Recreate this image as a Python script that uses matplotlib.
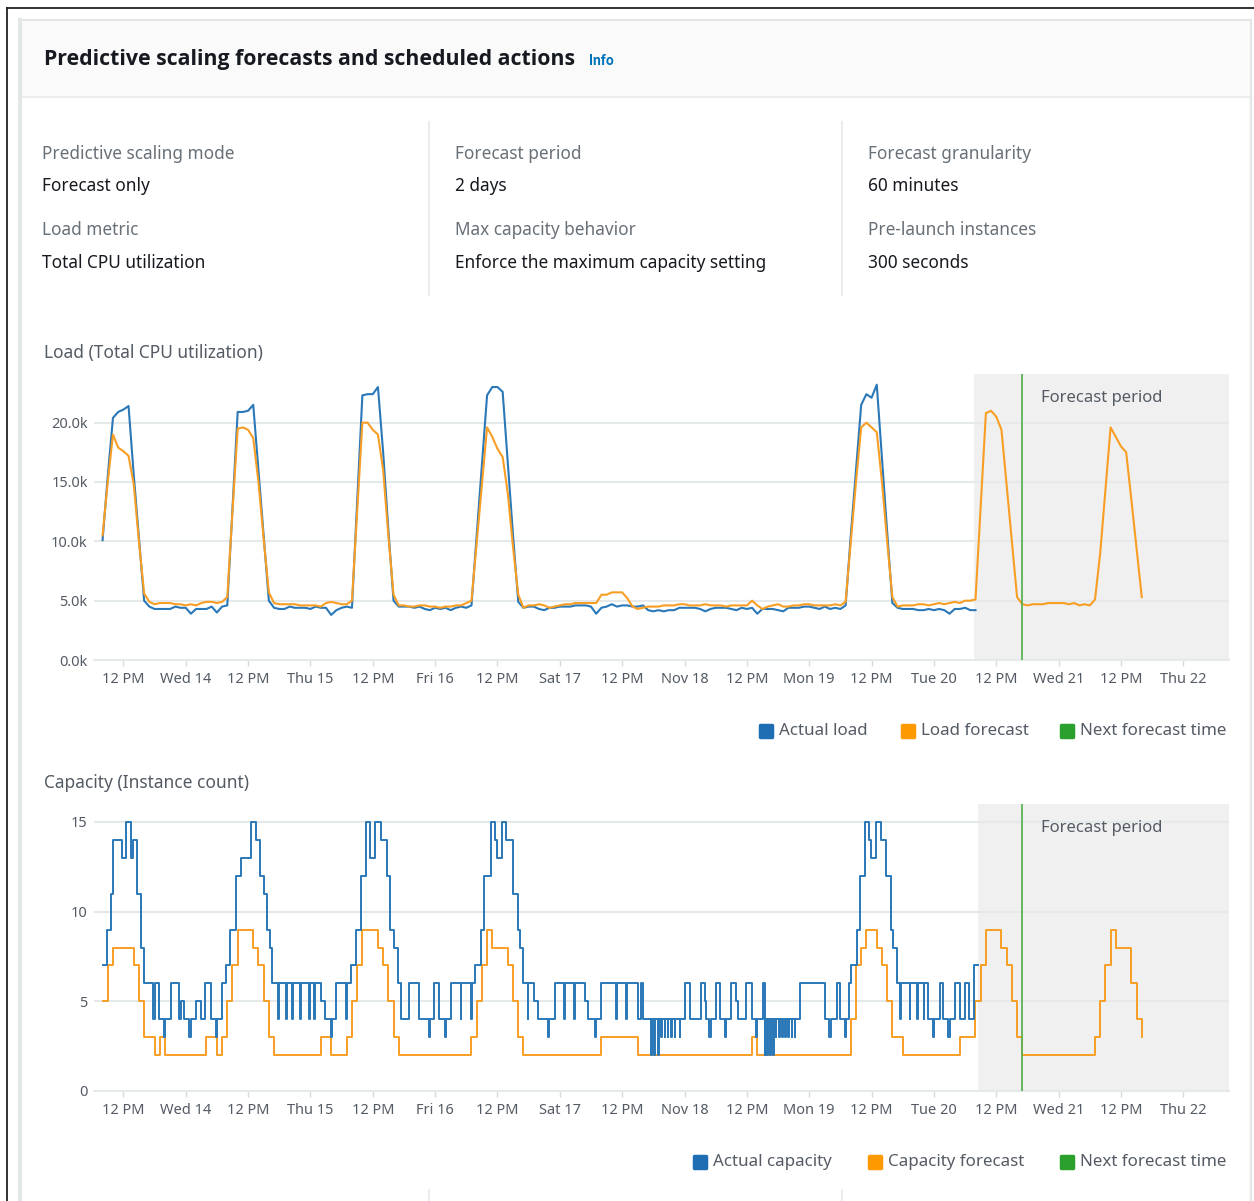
import matplotlib
matplotlib.use('Agg')
import numpy as np
import matplotlib.pyplot as plt
from matplotlib.patches import Rectangle
from matplotlib.lines import Line2D
from matplotlib.markers import MarkerStyle

plt.rcParams['font.family'] = ['Noto Sans', 'DejaVu Sans']

W, H = 1254, 1201

# hours counted from Tue 13 00:00
tick_hours = [12, 24, 36, 48, 60, 72, 84, 96, 108, 120, 132, 144, 156, 168, 180, 192, 204, 216]
tick_labels = ['12 PM', 'Wed 14', '12 PM', 'Thu 15', '12 PM', 'Fri 16', '12 PM', 'Sat 17', '12 PM',
               'Nov 18', '12 PM', 'Mon 19', '12 PM', 'Tue 20', '12 PM', 'Wed 21', '12 PM', 'Thu 22']

first_hour = 8
forecast_start_load = 175.7
forecast_start_cap = 176.5
next_forecast_hour = 184.9

# Load (Total CPU utilization), thousands, hourly from Tue 13 08:00
actual_load = [
    10.1, 15.5, 20.4, 20.9, 21.1, 21.4, 15.6, 10.3, 5.0, 4.5, 4.3, 4.3, 4.3, 4.3, 4.5, 4.4,
    4.4, 3.9, 4.3, 4.3, 4.3, 4.5, 4.0, 4.5, 4.6, 12.7, 20.9, 20.9, 21.0, 21.5, 16.0, 10.5, 5.0, 4.4, 4.3, 4.3, 4.5, 4.4, 4.4, 4.4,
    4.3, 4.5, 4.4, 4.4, 3.8, 4.2, 4.4, 4.5, 4.4, 13.4, 22.3, 22.4, 22.4, 23.0, 17.5, 11.0, 5.0, 4.5, 4.5, 4.5, 4.4, 4.5, 4.3, 4.2,
    4.4, 4.3, 4.4, 4.2, 4.4, 4.5, 4.4, 4.6, 10.5, 16.5, 22.3, 23.0, 23.0, 22.6, 16.5, 10.5, 4.9, 4.4, 4.5, 4.5, 4.3, 4.2, 4.4, 4.4,
    4.5, 4.5, 4.5, 4.6, 4.6, 4.6, 4.5, 3.9, 4.4, 4.5, 4.7, 4.5, 4.6, 4.6, 4.5, 4.5, 4.6, 4.2, 4.1, 4.2, 4.1, 4.2, 4.2, 4.4,
    4.4, 4.4, 4.4, 4.3, 4.1, 4.3, 4.4, 4.4, 4.4, 4.3, 4.2, 4.4, 4.3, 4.4, 3.9, 4.3, 4.3, 4.3, 4.2, 4.1, 4.4, 4.4, 4.4, 4.5,
    4.5, 4.4, 4.3, 4.5, 4.3, 4.4, 4.3, 4.6, 10.5, 16.0, 21.5, 22.4, 22.1, 23.2, 17.0, 10.8, 4.8, 4.4, 4.3, 4.3, 4.3, 4.2, 4.2, 4.3,
    4.2, 4.3, 4.2, 3.9, 4.3, 4.3, 4.4, 4.2, 4.2,
]
load_forecast = [
    10.5, 15.0, 19.0, 17.9, 17.6, 17.2, 14.8, 10.0, 5.6, 4.9, 4.7, 4.8, 4.8, 4.8, 4.7, 4.7,
    4.6, 4.7, 4.6, 4.8, 4.9, 4.9, 4.8, 4.9, 5.3, 12.5, 19.5, 19.6, 19.4, 18.7, 15.0, 10.2, 5.7, 4.8, 4.7, 4.7, 4.7, 4.7, 4.6, 4.6,
    4.6, 4.6, 4.5, 4.8, 4.9, 4.8, 4.7, 4.7, 5.0, 12.5, 20.0, 20.0, 19.4, 19.0, 16.0, 10.5, 5.5, 4.6, 4.6, 4.5, 4.5, 4.6, 4.6, 4.5,
    4.5, 4.4, 4.5, 4.5, 4.6, 4.6, 4.8, 5.0, 9.9, 14.8, 19.6, 18.8, 17.8, 17.1, 14.0, 9.5, 5.5, 4.4, 4.6, 4.6, 4.7, 4.6, 4.4, 4.5,
    4.6, 4.7, 4.7, 4.8, 4.8, 4.8, 4.8, 4.8, 5.5, 5.5, 5.7, 5.7, 5.7, 5.2, 4.5, 4.3, 4.4, 4.5, 4.5, 4.5, 4.6, 4.6, 4.6, 4.7,
    4.7, 4.6, 4.6, 4.6, 4.7, 4.6, 4.6, 4.6, 4.5, 4.6, 4.6, 4.6, 4.6, 5.0, 4.6, 4.3, 4.5, 4.6, 4.7, 4.5, 4.5, 4.6, 4.6, 4.7,
    4.7, 4.6, 4.6, 4.6, 4.6, 4.7, 4.6, 4.9, 10.0, 15.0, 19.6, 20.0, 19.6, 19.2, 15.0, 10.0, 5.3, 4.5, 4.6, 4.6, 4.6, 4.7, 4.7, 4.6,
    4.7, 4.8, 4.7, 4.8, 4.9, 4.8, 5.0, 5.0, 5.1, 13.0, 20.8, 21.0, 20.5, 19.4, 14.7, 10.0, 5.3, 4.7, 4.6, 4.7, 4.7, 4.7, 4.8, 4.8,
    4.8, 4.8, 4.7, 4.8, 4.6, 4.7, 4.6, 5.1, 9.0, 14.3, 19.6, 18.8, 18.0, 17.5, 13.5, 9.4, 5.3,
]

# Capacity (instance count): (hour, count) change points
actual_capacity = [
    (8.1, 7), (8.8, 9), (9.6, 11), (10.0, 14), (11.8, 13), (12.6, 15), (13.5, 13), (13.8, 14), (14.7, 11),
    (15.4, 8), (16.0, 6), (17.8, 4), (18.0, 6), (18.8, 4), (19.8, 3), (20.1, 4), (21.1, 6), (22.7, 4),
    (23.0, 5), (23.7, 4), (24.6, 3), (25.1, 4), (25.9, 5), (26.9, 4), (27.8, 6), (28.8, 4), (29.8, 3),
    (30.1, 4), (31.0, 6), (31.7, 7), (32.6, 9), (33.6, 12), (34.7, 13), (36.6, 15), (37.5, 14), (38.3, 12),
    (39.0, 11), (39.7, 9), (40.2, 8), (40.7, 6), (41.8, 4), (41.95, 6), (43.3, 4), (43.45, 6), (44.5, 4),
    (44.65, 6), (46.0, 4), (46.15, 6), (47.8, 4), (47.95, 6), (48.7, 4), (48.85, 6), (50.0, 5), (50.8, 4),
    (51.9, 3), (52.2, 4), (52.9, 6), (54.8, 4), (54.95, 6), (55.8, 7), (56.7, 9), (57.7, 12), (58.7, 15),
    (59.5, 13), (60.5, 15), (61.6, 14), (62.7, 12), (63.4, 9), (64.0, 8), (64.8, 6), (65.4, 4), (67.0, 6),
    (68.9, 4), (70.8, 3), (71.0, 4), (71.7, 6), (72.8, 4), (73.9, 3), (74.1, 4), (75.1, 6), (76.9, 4),
    (77.05, 6), (78.9, 4), (79.05, 6), (79.7, 7), (80.9, 9), (81.5, 12), (82.8, 15), (83.6, 14), (83.9, 13),
    (84.8, 15), (85.7, 14), (87.0, 11), (87.9, 9), (88.4, 8), (88.9, 6), (89.8, 4), (89.95, 6), (91.1, 5),
    (91.8, 4), (93.7, 3), (94.0, 4), (95.0, 6), (96.9, 4), (97.05, 6), (98.8, 4), (98.95, 6), (100.8, 5),
    (101.4, 4), (102.7, 3), (103.0, 4), (104.0, 6), (106.9, 4), (107.05, 6), (108.8, 4), (108.95, 6),
    (111.0, 4), (111.6, 6), (112.0, 4), (113.6, 2), (113.75, 4), (114.2, 2), (114.35, 4), (114.9, 2),
    (115.05, 4), (115.5, 3), (115.6, 4), (116.2, 3), (116.3, 4), (116.8, 3), (116.9, 4), (117.4, 3),
    (117.5, 4), (118.1, 3), (118.2, 4), (119.1, 3), (119.2, 4), (120.0, 6), (121.0, 4), (123.1, 6),
    (123.9, 5), (124.2, 4), (124.8, 3), (125.0, 4), (126.1, 6), (126.8, 4), (127.7, 3), (127.9, 4),
    (129.0, 6), (130.0, 5), (130.3, 4), (131.9, 6), (132.9, 4), (133.8, 3), (134.0, 4), (135.1, 6),
    (135.4, 2), (135.55, 4), (135.9, 2), (136.05, 4), (136.4, 2), (136.55, 4), (137.0, 2), (137.15, 4),
    (137.6, 3), (137.7, 4), (138.2, 3), (138.3, 4), (138.8, 3), (138.9, 4), (139.4, 3), (139.5, 4),
    (140.0, 3), (140.1, 4), (140.6, 3), (140.7, 4), (141.2, 3), (141.3, 4), (142.2, 6), (147.0, 4),
    (147.9, 3), (148.1, 4), (149.4, 6), (149.9, 4), (150.9, 3), (151.1, 4), (151.7, 6), (152.1, 7),
    (153.1, 9), (153.8, 12), (154.7, 15), (155.5, 14), (155.9, 13), (156.8, 15), (157.8, 14), (158.7, 12),
    (159.7, 9), (160.2, 8), (160.8, 6), (161.5, 4), (161.65, 6), (163.3, 4), (163.45, 6), (164.7, 4),
    (164.85, 6), (166.0, 4), (166.15, 6), (166.9, 4), (167.9, 3), (168.1, 4), (169.2, 6), (169.8, 4),
    (170.8, 3), (171.0, 4), (172.1, 6), (173.0, 4), (174.0, 6), (174.8, 4), (175.8, 7), (176.5, 7),
]
capacity_forecast = [
    (8, 5), (9, 7), (10, 8), (14, 7), (15, 5), (16, 3), (18, 2), (19, 3), (20, 2), (28, 3), (30, 2), (31, 3),
    (32, 5), (33, 7), (34, 9), (37, 8), (38, 7), (39, 5), (40, 3), (41, 2), (50, 3), (52, 2), (55, 3), (56, 5),
    (57, 7), (58, 9), (61, 8), (62, 7), (63, 5), (64, 3), (65, 2), (79, 3), (80, 5), (81, 7), (82, 9), (83, 8),
    (86, 7), (87, 5), (88, 3), (89, 2), (104, 3), (111, 2), (133, 3), (134, 2), (152, 4), (153, 7), (154, 8),
    (155, 9), (157, 8), (158, 7), (159, 5), (160, 3), (162, 2), (173, 3), (176, 5), (177, 7), (178, 9),
    (181, 8), (182, 7), (183, 5), (184, 3), (185, 2), (199, 3), (200, 5), (201, 7), (202, 9), (203, 8),
    (206, 6), (207, 4), (208, 3),
]

BLUE = '#2a78b8'
ORANGE = '#f89e24'
GREEN = '#5cb157'
TXT = '#545b64'
DARK = '#16191f'
LABEL = '#687078'
GRID = '#e6e9ea'

fig = plt.figure(figsize=(W / 100, H / 100), dpi=100)

# page background drawn in pixel coordinates
bg = fig.add_axes([0, 0, 1, 1])
bg.set_xlim(0, W)
bg.set_ylim(H, 0)
bg.axis('off')
bg.add_patch(Rectangle((20, 20), 1231, 77, fc='#fafafa', ec='none'))
bg.plot([20, 1251], [97, 97], color='#eaeded', lw=1.5)
bg.plot([20, 1251], [20, 20], color='#e3e6e6', lw=1.5)
bg.plot([20, 20], [20, H], color='#e3e6e6', lw=3)
bg.plot([1251, 1251], [20, H], color='#e3e6e6', lw=1.5)
bg.plot([7, 7], [8, H], color='#222222', lw=1.3)
bg.plot([7, W], [8, 8], color='#222222', lw=1.3)

bg.text(44, 59, 'Predictive scaling forecasts and scheduled actions', fontsize=15.3,
        family='Open Sans', fontweight='bold', color=DARK, va='center', ha='left')
bg.text(589, 61, 'Info', fontsize=10, family='Roboto', fontweight='bold', color='#0073bb',
        va='center', ha='left')

info_x = [42, 455, 868]
info_labels = [['Predictive scaling mode', 'Load metric'],
               ['Forecast period', 'Max capacity behavior'],
               ['Forecast granularity', 'Pre-launch instances']]
info_values = [['Forecast only', 'Total CPU utilization'],
               ['2 days', 'Enforce the maximum capacity setting'],
               ['60 minutes', '300 seconds']]
for x, labs, vals in zip(info_x, info_labels, info_values):
    for row, (lab, val) in enumerate(zip(labs, vals)):
        bg.text(x, 154 + 76 * row, lab, fontsize=12.4, color=LABEL, va='center')
        bg.text(x, 186 + 77 * row, val, fontsize=12.4, color=DARK, va='center')
for x in [429, 842]:
    bg.plot([x, x], [122, 295], color='#eaeded', lw=1.5)
    bg.plot([x, x], [1190, H], color='#eaeded', lw=1.5)

bg.text(44, 353, 'Load (Total CPU utilization)', fontsize=12.5, color=TXT, va='center')
bg.text(44, 783, 'Capacity (Instance count)', fontsize=12.5, color=TXT, va='center')


def legend_row(y, entries):
    for cx, label, color in entries:
        bg.add_line(Line2D([cx], [y], marker=MarkerStyle('s', joinstyle='round'), ms=8, mew=2.5,
                           mfc=color, mec=color, ls='none'))
        bg.text(cx + 13, y, label, fontsize=12.2, color=TXT, va='center', ha='left')


legend_row(731, [(766, 'Actual load', '#1f6db3'), (908, 'Load forecast', '#ff9900'),
                 (1067, 'Next forecast time', '#2ca02c')])
legend_row(1162, [(700, 'Actual capacity', '#1f6db3'), (875, 'Capacity forecast', '#ff9900'),
                  (1067, 'Next forecast time', '#2ca02c')])

x_min = (94 - 61) / 5.196
x_max = (1229 - 61) / 5.196


def chart_axes(top, bottom, ymax, yticks, ylabels, shade_from):
    ax = fig.add_axes([94 / W, 1 - bottom / H, (1229 - 94) / W, (bottom - top) / H])
    ax.set_facecolor('none')
    ax.set_xlim(x_min, x_max)
    ax.set_ylim(0, ymax)
    for s in ['top', 'right', 'left']:
        ax.spines[s].set_visible(False)
    ax.spines['bottom'].set_color(GRID)
    ax.spines['bottom'].set_linewidth(1.5)
    ax.set_axisbelow(True)
    ax.yaxis.grid(True, color=GRID, lw=1.5)
    ax.set_yticks(yticks)
    ax.set_yticklabels(ylabels)
    ax.set_xticks(tick_hours)
    ax.set_xticklabels(tick_labels)
    ax.tick_params(axis='x', length=4.5, width=1, color='#d5dbdb', pad=4, labelsize=10.5, labelcolor=TXT)
    ax.tick_params(axis='y', length=0, pad=4.5, labelsize=10.5, labelcolor=TXT)
    ax.axvspan(shade_from, x_max, color='#f0f0f0', zorder=0.2, lw=0)
    ax.axvline(next_forecast_hour, color=GREEN, lw=1.3, zorder=3)
    ax.text(0.888, 1 - 24 / (bottom - top), 'Forecast period', transform=ax.transAxes,
            fontsize=12, color=TXT, ha='center', va='center')
    return ax


ax1 = chart_axes(374, 660, 24.1, [0, 5, 10, 15, 20], ['0.0k', '5.0k', '10.0k', '15.0k', '20.0k'],
                 forecast_start_load)
ax1.plot(np.arange(first_hour, first_hour + len(actual_load)), actual_load, color=BLUE, lw=1.5, zorder=2)
ax1.plot(np.arange(first_hour, first_hour + len(load_forecast)), load_forecast, color=ORANGE, lw=1.5, zorder=2)

ax2 = chart_axes(804, 1091, 16, [0, 5, 10, 15], ['0', '5', '10', '15'], forecast_start_cap)
fc_h, fc_v = zip(*capacity_forecast)
ac_h, ac_v = zip(*actual_capacity)
ax2.step(fc_h, fc_v, where='post', color=ORANGE, lw=1.4, zorder=2)
ax2.step(ac_h, ac_v, where='post', color=BLUE, lw=1.4, zorder=2)

fig.savefig('out.png', dpi=100)
